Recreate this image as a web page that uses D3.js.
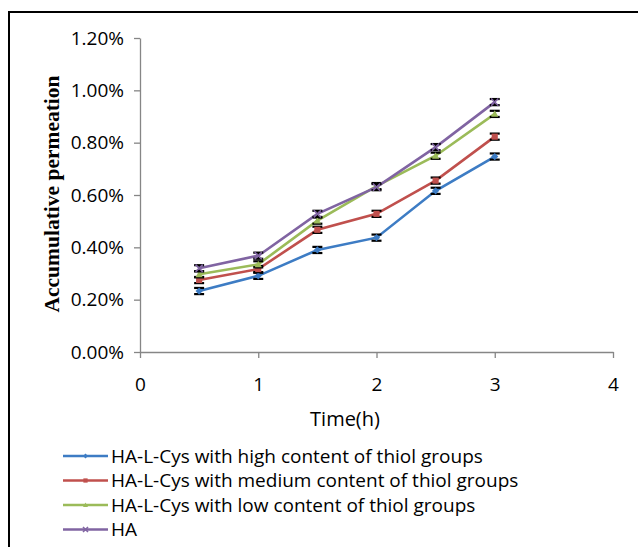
<!DOCTYPE html>
<html><head><meta charset="utf-8">
<script src="https://cdn.jsdelivr.net/npm/d3@7"></script>
<style>body{margin:0;background:#fff}svg{display:block}</style>
</head><body>
<svg id="c" width="638" height="547"></svg>
<script>
const times = [0.5, 1, 1.5, 2, 2.5, 3];
const seriesNames = [
  "HA-L-Cys with high content of thiol groups",
  "HA-L-Cys with medium content of thiol groups",
  "HA-L-Cys with low content of thiol groups",
  "HA"
];
const highVals   = [0.233, 0.291, 0.390, 0.437, 0.616, 0.747];
const mediumVals = [0.275, 0.317, 0.467, 0.528, 0.655, 0.823];
const lowVals    = [0.297, 0.335, 0.502, 0.634, 0.750, 0.910];
const haVals     = [0.320, 0.368, 0.528, 0.630, 0.783, 0.955];
const errHigh    = [0.006, 0.006, 0.006, 0.006, 0.006, 0.006];
const errMedium  = [0.006, 0.006, 0.006, 0.006, 0.006, 0.006];
const errLow     = [0.006, 0.006, 0.006, 0.006, 0.006, 0.006];
const errHA      = [0.006, 0.006, 0.006, 0.006, 0.006, 0.006];
const xTicks = [0, 1, 2, 3, 4];
const yTicks = [0, 0.2, 0.4, 0.6, 0.8, 1.0, 1.2];
const xTitle = "Time(h)";
const yTitle = "Accumulative permeation";

const colors = ["#3d7cc4", "#c0504d", "#9bbb59", "#8064a2"];
const markers = ["diamond", "square", "triangle", "cross"];
const allVals = [highVals, mediumVals, lowVals, haVals];
const allErr = [errHigh, errMedium, errLow, errHA];

const svg = d3.select("#c");
const font = "'Open Sans', sans-serif";

// frame
svg.append("line").attr("x1", 9).attr("x2", 638).attr("y1", 12).attr("y2", 12).attr("stroke", "#000").attr("stroke-width", 2);
svg.append("line").attr("x1", 9).attr("x2", 9).attr("y1", 11).attr("y2", 547).attr("stroke", "#000").attr("stroke-width", 2);

const x = d3.scaleLinear().domain([0, 4]).range([140, 613]);
const y = d3.scaleLinear().domain([0, 1.2]).range([352, 38]);

const xAxis = d3.axisBottom(x).tickValues(xTicks).tickSize(6).tickSizeOuter(0).tickPadding(20).tickFormat(d3.format("d"));
const yAxis = d3.axisLeft(y).tickValues(yTicks).tickSize(6).tickSizeOuter(0).tickPadding(10).tickFormat(d => d3.format(".2f")(d) + "%");

const gx = svg.append("g").attr("transform", `translate(0,${y(0)})`).call(xAxis);
const gy = svg.append("g").attr("transform", `translate(${x(0)},0)`).call(yAxis);
[gx, gy].forEach(g => {
  g.select(".domain").attr("stroke", "#868686").attr("stroke-width", 1.3);
  g.selectAll(".tick line").attr("stroke", "#868686").attr("stroke-width", 1.3);
  g.selectAll(".tick text").attr("fill", "#000").style("font-family", font).style("font-size", "19px");
});

svg.append("text").attr("x", 345).attr("y", 426).attr("text-anchor", "middle")
  .style("font-family", font).style("font-size", "20px").text(xTitle);
svg.append("text").attr("transform", `translate(59,194) rotate(-90)`).attr("text-anchor", "middle")
  .style("font-family", "'Liberation Serif', 'DejaVu Serif', serif").style("font-weight", "bold").style("font-size", "21.5px").text(yTitle);

function marker(g, type, color, cx, cy, s) {
  if (type === "diamond") {
    g.append("path").attr("d", `M${cx},${cy-s}L${cx+s},${cy}L${cx},${cy+s}L${cx-s},${cy}Z`).attr("fill", color);
  } else if (type === "square") {
    g.append("rect").attr("x", cx - s*0.85).attr("y", cy - s*0.85).attr("width", s*1.7).attr("height", s*1.7).attr("fill", color);
  } else if (type === "triangle") {
    g.append("path").attr("d", `M${cx},${cy-s}L${cx+s},${cy+s*0.8}L${cx-s},${cy+s*0.8}Z`).attr("fill", color);
  } else {
    g.append("path").attr("d", `M${cx-s},${cy-s}L${cx+s},${cy+s}M${cx+s},${cy-s}L${cx-s},${cy+s}`).attr("stroke", color).attr("stroke-width", 1.6);
  }
}

const line = d3.line().x((d, i) => x(times[i])).y(d => y(d));
allVals.forEach((vals, k) => {
  const g = svg.append("g");
  g.append("path").datum(vals).attr("d", line).attr("fill", "none").attr("stroke", colors[k]).attr("stroke-width", 2.6);
  vals.forEach((v, i) => {
    const cx = x(times[i]);
    const e = allErr[k][i];
    const yt = y(v + e) - 1.5, yb = y(v - e) + 1.5;
    g.append("line").attr("x1", cx).attr("x2", cx).attr("y1", yt).attr("y2", yb).attr("stroke", "#000").attr("stroke-width", 1.5);
    g.append("line").attr("x1", cx - 5).attr("x2", cx + 5).attr("y1", yt).attr("y2", yt).attr("stroke", "#000").attr("stroke-width", 2.2);
    g.append("line").attr("x1", cx - 5).attr("x2", cx + 5).attr("y1", yb).attr("y2", yb).attr("stroke", "#000").attr("stroke-width", 2.2);
    marker(g, markers[k], colors[k], cx, y(v), 3.6);
  });
});

// legend
const leg = svg.append("g");
seriesNames.forEach((name, k) => {
  const ly = 456 + k * 24.5;
  leg.append("line").attr("x1", 63).attr("x2", 108).attr("y1", ly).attr("y2", ly).attr("stroke", colors[k]).attr("stroke-width", 2.6);
  marker(leg, markers[k], colors[k], 85.5, ly, 2.5);
  leg.append("text").attr("x", 111).attr("y", ly).attr("dy", "0.35em")
    .style("font-family", font).style("font-size", "19px").text(name);
});
</script>
</body></html>
